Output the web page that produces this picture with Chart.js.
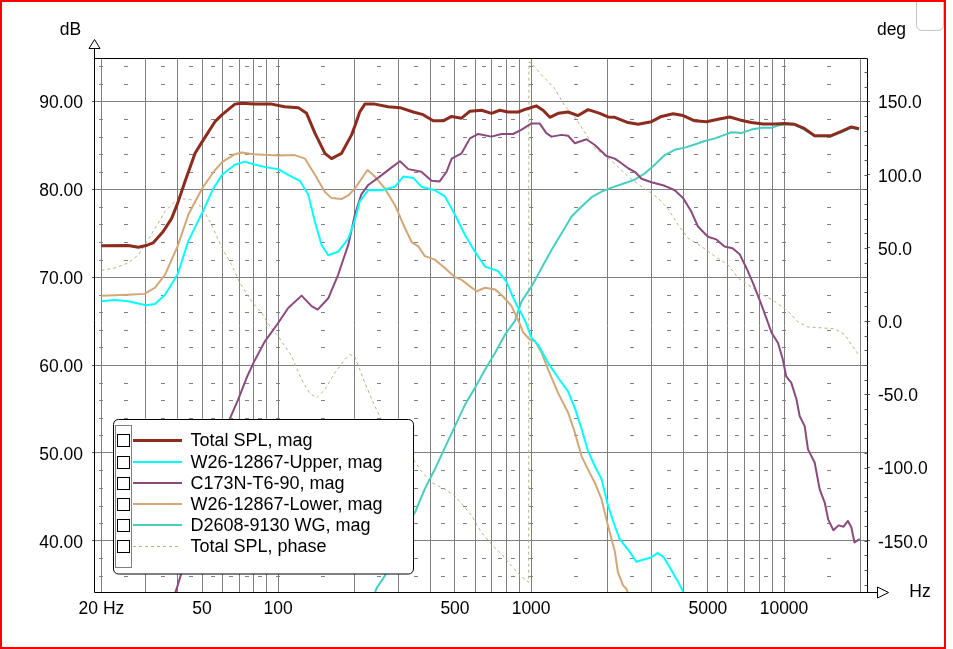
<!DOCTYPE html>
<html><head><meta charset="utf-8">
<script src="https://cdn.jsdelivr.net/npm/chart.js@4.4.1/dist/chart.umd.min.js"></script>
<style>html,body{margin:0;padding:0;background:#fff;overflow:hidden}canvas{display:block}</style>
</head><body>
<canvas id="c" width="953" height="649"></canvas>
<script>
// ---------- DATA ----------
const seriesLabels = ['Total SPL, mag','W26-12867-Upper, mag','C173N-T6-90, mag','W26-12867-Lower, mag','D2608-9130 WG, mag','Total SPL, phase'];

const totalFreq = [20,25.5,28,30,32,35.1,37.9,40,42.8,46.9,50,56.2,60,67.4,71.7,80,94.2,106,120,129.5,139.7,153,162.5,178,195,201,210,220,241,272,303,342,374,410,449,485,531,573,637,697,752,811,889,959,1050,1115,1186,1279,1400,1534,1680,1868,2014,2142,2417,2648,2992,3277,3642,3990,4436,4934,5483,6100,6683,7430,8260,9190,10064,11020,12070,13220,15380,16860,18470,19800];
const totalMag  = [73.58,73.6,73.4,73.6,73.9,75.2,76.7,78.4,80.9,84.1,85.4,87.7,88.5,89.7,89.8,89.7,89.7,89.4,89.3,88.65,86.4,84.1,83.5,84.1,86.2,87.2,88.8,89.7,89.7,89.4,89.3,88.8,88.5,87.8,87.8,88.3,88.1,88.9,89.0,88.65,89.0,88.8,88.8,89.15,89.5,89.0,88.2,88.65,88.8,88.4,89.07,88.65,88.24,88.2,87.6,87.4,87.7,88.3,88.6,88.4,87.8,87.7,87.97,88.24,87.9,87.6,87.44,87.44,87.5,87.4,86.9,86.1,86.1,86.6,87.1,86.9];

const upperFreq = [20,22.6,25.5,30,32.6,35.7,40,44.1,50,55.4,60,67.4,73.8,80,90,100,109.5,121.8,131.4,139.7,148.3,157.7,172.7,189.3,201,210,226.8,256,289.5,312,342,368,416,456,500,548,600,658,740,799,862,945,1004,1066,1167,1279,1400,1490,1584,1680,1786,1900,2014,2142,2239,2417,2610,2812,2992,3160,3327,3537,3765,3945,4200];
const upperMag  = [67.25,67.4,67.25,66.8,66.95,68.0,70.3,74.1,77.3,80.1,81.65,82.8,83.15,82.85,82.5,82.3,81.65,80.97,79.4,76.3,73.7,72.5,72.9,74.4,76.5,78.6,79.9,79.9,80.3,81.45,81.3,80.3,79.9,79.2,77.1,74.8,72.9,71.2,70.7,69.5,67.25,65.1,63.1,62.3,60.25,58.55,57.0,55.1,52.7,50.2,48.5,47.0,44.0,41.7,40.2,39.0,37.6,37.9,38.1,38.6,38.2,36.95,35.6,34.5,32.5];

const tweetFreqs = [37.5,39.7,41.5,45,50,55,60,64.4,69.5,75,80,88.6,99.5,109.5,123.7,135.5,143.2,157.7,172.7,189.3,201,213,227,252,281,303,327,368,404,435,463,485,531,573,618,697,764,849,917,1004,1080,1149,1204,1320,1400,1490,1655,1786,1985,2142,2270,2417,2570,2733,2992,3376,3700,3990,4295,4563,5000,5400,5820,6260,6683,7100,7550,8050,8550,8920,9470,9900,10200,10680,11200,11530,12070,12440,13220,13840,14500,14960,15680,16430,17200,17900,18470,19000,19910];
const tweetMag   = [32.5,34.57,36.4,40,44,47.5,51,53.9,56.1,58.55,60.3,62.7,64.7,66.5,67.9,66.7,66.3,67.6,70.3,73.7,77.1,79.4,80.5,81.45,82.5,83.2,82.3,82.0,80.97,80.9,82.0,83.5,84.1,85.8,86.3,86.0,86.3,86.3,86.8,87.5,87.5,86.4,86.0,86.2,86.1,85.25,85.7,85.05,83.8,83.5,83.0,82.4,82.0,81.2,80.8,80.4,79.9,79.0,77.5,75.8,74.6,74.3,73.5,73.3,72.6,71.05,69.3,67.25,65.2,63.7,62.5,60.6,58.7,58.0,56.1,54.2,53.05,50.4,48.9,45.85,44.3,42.4,41.2,41.75,41.6,42.25,41.5,39.8,40.2];

const lowerFreq = [20,25.5,29.6,32.6,35.7,40,44.1,50,55.4,60,67.4,71.7,80,100,116.4,127.5,139.7,153,162.5,178,189.3,201,225.5,241,264,289.5,317,337,358,380,416,456,500,531,573,609,658,721,775,837,889,931,988,1037,1100,1167,1279,1400,1490,1584,1680,1786,1900,2014,2142,2205,2311,2384,2450];
const lowerMag  = [67.9,68.0,68.1,68.8,70.3,73.5,77.1,80.1,81.95,83.1,84.0,84.2,84.0,83.85,83.9,83.5,81.65,79.7,79.0,78.9,79.3,80.1,82.2,81.45,80.1,78.2,75.6,74.0,73.5,72.4,72.0,71.05,70.0,69.7,68.95,68.4,68.8,68.6,67.8,66.7,65.1,63.7,62.9,62.7,61.4,59.5,56.8,54.6,52.3,49.6,48.1,46.6,44.7,41.7,38.8,36.4,34.9,34.5,33.5];

const wgFreq = [230,245,264,317,347,380,416,456,500,548,600,658,721,790,862,917,1004,1100,1204,1320,1445,1584,1736,1900,2080,2340,2570,2812,3080,3376,3700,4055,4436,4860,5330,5820,6190,6780,7430,8140,8920,9470,10064,11020,11700,12810,13220,15380,16860,18470,19800];
const wgMag  = [32.5,34.6,36.0,41.7,43.2,45.9,48.1,50.6,53.05,55.5,57.4,59.5,61.4,63.5,65.0,67.25,68.95,71.05,73.1,75.0,76.9,78.05,79.1,79.75,80.2,80.7,81.1,81.8,82.8,83.9,84.5,84.75,85.1,85.5,85.8,86.2,86.5,86.4,86.8,87.0,87.0,87.25,87.4,87.35,87.0,86.3,86.05,86.05,86.5,87.0,86.8];

const phaseFreq = [20,22.6,25.5,28,30,32.6,35.7,39,42.1,45.5,50,54.5,60,65.4,70,78.5,86,91.3,100,113,123.7,133.5,141.8,153,167.5,183.5,192,201,220,241,256,300,342,368,404,456,500,548,583,637,697,764,837,902,965,978,980,1004,1100,1238,1353,1483,1625,1786,2014,2142,2417,2733,3177,3479,3810,4175,4716,5330,6007,6578,7206,8140,9190,10370,11360,12440,14060,15860,17380,18470,19910];
const phaseDeg  = [34.6,36.3,39.7,45.3,53.3,63.5,74.9,81.7,83.5,82.8,77.6,65.8,49.9,38.5,27.1,13.5,5.6,-1.9,-10.4,-24,-39.9,-49.4,-52.4,-46.7,-35.3,-26.2,-22.8,-24.5,-42.1,-58.1,-67.2,-82,-94.4,-102.4,-110.3,-114.9,-119.5,-127.4,-133.1,-144.4,-152.4,-159.2,-167.2,-173.5,-177.5,-178.5,177,176,168.1,159,147.6,139.6,129.4,118.1,111.3,107.5,98.7,91.9,84.0,76.7,65.8,56.7,51.0,44.2,38.5,29.5,24.9,18.5,13.5,6.7,-0.5,-4.0,-4.6,-5.3,-9.2,-16.0,-24.0];

// ---------- AXIS TICKS ----------
const xGridTicks = [20,30,40,50,60,70,80,90,100,200,300,400,500,600,700,800,900,1000,2000,3000,4000,5000,6000,7000,8000,9000,10000,20000];
const xLabelTicks = [20,50,100,500,1000,5000,10000];
const dbTicks = [40,50,60,70,80,90];
const degTicks = [-150,-100,-50,0,50,100,150];
const minorDashFreqs = [20,25,35,45,55,65,75,85,100,150,250,350,450,550,650,750,850,1000,1500,2500,3500,4500,5500,6500,7500,8500,10000,15000];

// ---------- STYLE ----------
const FONT = '"Liberation Sans", Arial, sans-serif';
const GRID = '#808080';
const colors = ['#8c2c1f','#00ffff','#8a4a7e','#d2a878','#46cfbf','#b4b47e'];
const widths = [3,2,2,2,2,1];

function pts(f, v){ return f.map((x,i)=>({x:x, y:v[i]})); }

const datasets = [
  {label:seriesLabels[0], data:pts(totalFreq,totalMag), yAxisID:'y'},
  {label:seriesLabels[1], data:pts(upperFreq,upperMag), yAxisID:'y'},
  {label:seriesLabels[2], data:pts(tweetFreqs,tweetMag), yAxisID:'y'},
  {label:seriesLabels[3], data:pts(lowerFreq,lowerMag), yAxisID:'y'},
  {label:seriesLabels[4], data:pts(wgFreq,wgMag), yAxisID:'y'},
  {label:seriesLabels[5], data:pts(phaseFreq,phaseDeg), yAxisID:'yr', borderDash:[3,3]}
].map((d,i)=>Object.assign(d,{borderColor:colors[i], backgroundColor:colors[i], borderWidth:widths[i], pointRadius:0, tension:0, fill:false, borderJoinStyle:'round'}));

const deco = {
  id:'deco',
  beforeDatasetsDraw(chart){
    const ctx = chart.ctx, x = chart.scales.x, y = chart.scales.y;
    ctx.save();
    ctx.strokeStyle = GRID; ctx.lineWidth = 1;
    for (let d = 36; d <= 94; d += 2) {
      if (d % 10 === 0) continue;
      const py = Math.round(y.getPixelForValue(d)) + 0.5;
      for (const f of minorDashFreqs) {
        const px = Math.round(x.getPixelForValue(f));
        ctx.beginPath(); ctx.moveTo(px - 2, py); ctx.lineTo(px + 2, py); ctx.stroke();
      }
    }
    ctx.restore();
  },
  afterDraw(chart){
    const ctx = chart.ctx, a = chart.chartArea, yr = chart.scales.yr;
    ctx.save();
    // frame
    ctx.strokeStyle = '#000'; ctx.lineWidth = 1;
    const L = a.left - 0.5, R = a.right + 0.5, T = a.top + 0.5, B = a.bottom - 0.5;
    ctx.beginPath();
    ctx.moveTo(L, 48); ctx.lineTo(L, B); ctx.lineTo(877.5, B);
    ctx.moveTo(L, T); ctx.lineTo(R, T); ctx.lineTo(R, B);
    ctx.stroke();
    // arrows
    ctx.fillStyle = '#fff';
    ctx.beginPath(); ctx.moveTo(L, 39.5); ctx.lineTo(L + 5.5, 48.5); ctx.lineTo(L - 5.5, 48.5); ctx.closePath(); ctx.fill(); ctx.stroke();
    ctx.beginPath(); ctx.moveTo(888.5, B); ctx.lineTo(877.5, B - 5.5); ctx.lineTo(877.5, B + 5.5); ctx.closePath(); ctx.fill(); ctx.stroke();
    // right-axis minor ticks
    ctx.strokeStyle = '#555';
    for (let d = -180; d <= 170; d += 10) {
      const py = Math.round(yr.getPixelForValue(d)) + 0.5;
      ctx.beginPath(); ctx.moveTo(R - 3, py); ctx.lineTo(R, py); ctx.stroke();
    }
    // axis titles
    ctx.fillStyle = '#000';
    ctx.font = '17.5px ' + FONT;
    ctx.textAlign = 'center'; ctx.textBaseline = 'middle';
    ctx.fillText('dB', 70.5, 30);
    ctx.fillText('deg', 891.5, 30);
    ctx.fillText('Hz', 920, 592);
    // legend
    const lx = 113.5, ly = 419.5, lw = 300, lh = 154.5, r = 5;
    ctx.beginPath();
    ctx.moveTo(lx + r, ly); ctx.lineTo(lx + lw - r, ly); ctx.arcTo(lx + lw, ly, lx + lw, ly + r, r);
    ctx.lineTo(lx + lw, ly + lh - r); ctx.arcTo(lx + lw, ly + lh, lx + lw - r, ly + lh, r);
    ctx.lineTo(lx + r, ly + lh); ctx.arcTo(lx, ly + lh, lx, ly + lh - r, r);
    ctx.lineTo(lx, ly + r); ctx.arcTo(lx, ly, lx + r, ly, r); ctx.closePath();
    ctx.fillStyle = '#fff'; ctx.fill(); ctx.strokeStyle = '#000'; ctx.stroke();
    ctx.setLineDash([1,1]);
    ctx.strokeRect(115.5, 425.5, 16, 142);
    ctx.setLineDash([]);
    ctx.font = '18px ' + FONT; ctx.textAlign = 'left';
    chart.data.datasets.forEach((ds, i) => {
      const cy = Math.round(440.3 + i * 21.2);
      ctx.strokeStyle = '#000'; ctx.lineWidth = 1;
      ctx.strokeRect(117.5, cy - 5.5, 12, 12);
      ctx.strokeStyle = ds.borderColor; ctx.lineWidth = ds.borderWidth;
      ctx.setLineDash(ds.borderDash || []);
      ctx.beginPath(); ctx.moveTo(133, cy + (ds.borderWidth % 2 ? 0.5 : 0)); ctx.lineTo(i === 5 ? 178 : 182, cy + (ds.borderWidth % 2 ? 0.5 : 0)); ctx.stroke();
      ctx.setLineDash([]);
      ctx.fillStyle = '#000';
      ctx.fillText(ds.label, 190.5, cy + 1);
    });
    // window border + corner element
    ctx.fillStyle = '#ff0000';
    ctx.fillRect(0, 0, 946, 2); ctx.fillRect(0, 0, 2, 649); ctx.fillRect(944, 0, 2, 649); ctx.fillRect(0, 647, 946, 2);
    ctx.strokeStyle = '#c4c4c4'; ctx.lineWidth = 1;
    ctx.beginPath(); ctx.moveTo(916.5, 2); ctx.lineTo(916.5, 25); ctx.arcTo(916.5, 30.5, 922, 30.5, 5.5);
    ctx.lineTo(938, 30.5); ctx.arcTo(943.5, 30.5, 943.5, 25, 5.5); ctx.lineTo(943.5, 2); ctx.stroke();
    ctx.restore();
  }
};

new Chart(document.getElementById('c'), {
  type: 'line',
  data: { datasets },
  options: {
    responsive: false, animation: false, events: [], devicePixelRatio: 1,
    layout: { padding: { left: 0, right: 0, top: 58, bottom: 0 } },
    plugins: { legend: { display: false }, tooltip: { enabled: false } },
    scales: {
      x: {
        type: 'logarithmic', position: 'bottom', min: 18.86, max: 21290,
        afterBuildTicks: s => { s.ticks = xGridTicks.map(v => ({ value: v })); },
        afterFit: s => { s.height = 56; },
        grid: { color: GRID, lineWidth: 1, drawTicks: false },
        border: { display: false },
        ticks: { autoSkip: false, maxRotation: 0, minRotation: 0, padding: 6, color: '#000', font: { family: FONT, size: 17.5 },
          callback: v => v === 20 ? '20 Hz' : (xLabelTicks.includes(v) ? String(v) : '') }
      },
      y: {
        type: 'linear', position: 'left', min: 34.05, max: 94.95,
        afterBuildTicks: s => { s.ticks = dbTicks.map(v => ({ value: v })); },
        afterFit: s => { s.width = 95; },
        grid: { color: GRID, tickColor: '#555', tickLength: 3 },
        border: { display: false },
        ticks: { padding: 9, labelOffset: 2, color: '#000', font: { family: FONT, size: 17.5 }, callback: v => v.toFixed(2) }
      },
      yr: {
        type: 'linear', position: 'right', min: -185.7, max: 179.7,
        afterBuildTicks: s => { s.ticks = degTicks.map(v => ({ value: v })); },
        afterFit: s => { s.width = 86; },
        grid: { drawOnChartArea: false, tickColor: '#555', tickLength: 3 },
        border: { display: false },
        ticks: { padding: 8, labelOffset: 2, color: '#000', font: { family: FONT, size: 17.5 }, callback: v => v.toFixed(1) }
      }
    }
  },
  plugins: [deco]
});
</script>
</body></html>
